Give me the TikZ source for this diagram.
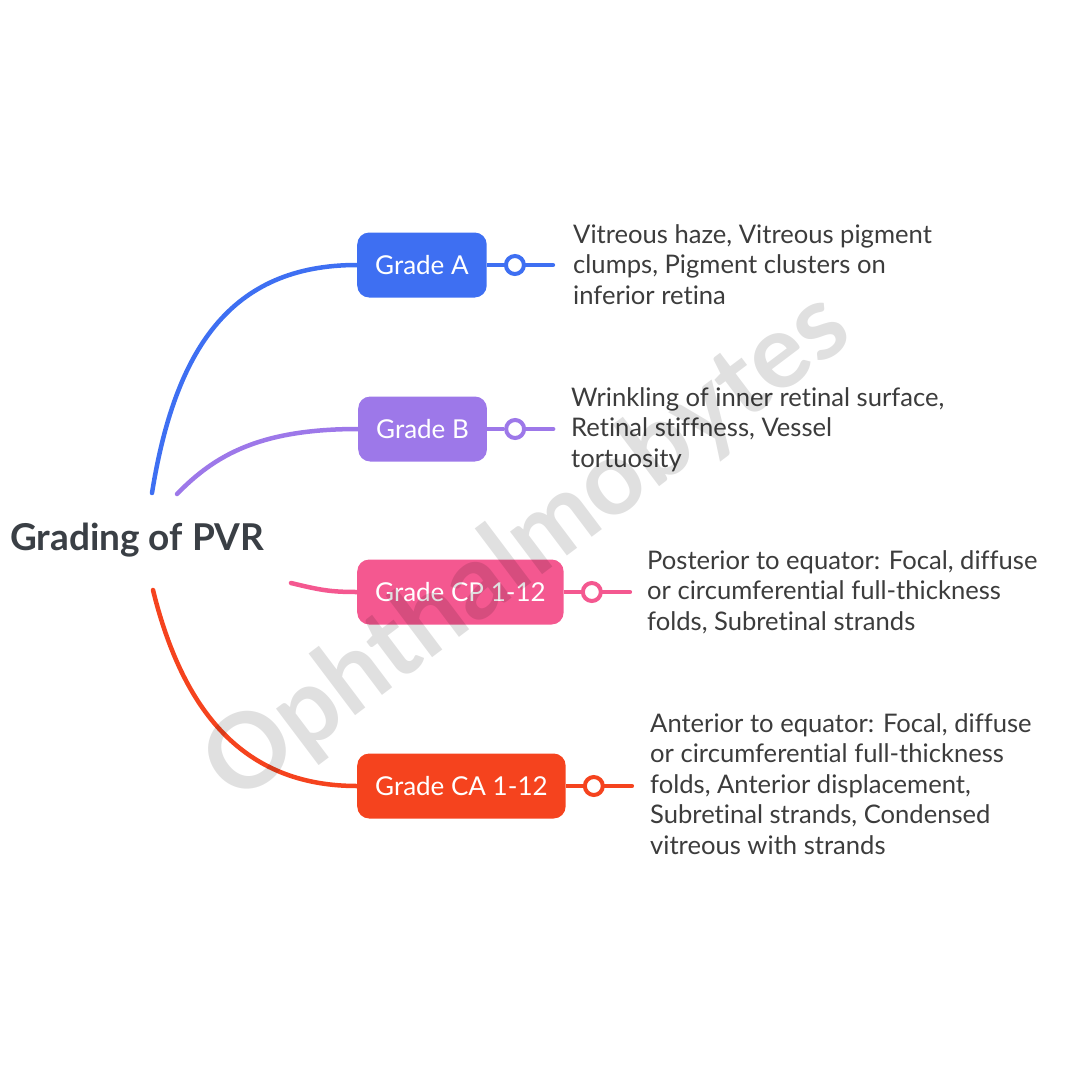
\documentclass[tikz,border=0pt]{standalone}
\usepackage{fontspec}
\setmainfont{Lato}[Ligatures=NoCommon]
\usepackage{xcolor}
\usetikzlibrary{positioning}

\definecolor{gradeA}{HTML}{3E6FF2}
\definecolor{gradeB}{HTML}{9D78E9}
\definecolor{gradeCP}{HTML}{F45890}
\definecolor{gradeCA}{HTML}{F5431E}
\definecolor{inkdark}{HTML}{3A3F45}
\definecolor{inkbody}{HTML}{3C3C3C}

\begin{document}
\begin{tikzpicture}[x=1pt,y=-1pt]
\tikzset{grade/.style={rounded corners=12pt,minimum height=65pt,inner xsep=18pt,text=white,font=\fontsize{26}{30}\selectfont,anchor=west}}
\tikzset{desc/.style={anchor=north west,inner sep=0pt,align=left,text=inkbody,font=\fontsize{25.6}{30.5}\selectfont}}
\tikzset{knob/.style={circle,draw,fill=white,line width=4pt,minimum size=18pt,inner sep=0pt}}
\tikzset{branch/.style={line width=4.5pt,line cap=round}}

\useasboundingbox (0,0) rectangle (1080,1080);

\node[anchor=west,inner sep=0pt,text=inkdark,font=\fontsize{37}{42}\bfseries] (pvr) at (10,540) {Grading of PVR};

% grades
\node[grade,fill=gradeA] (gA) at (357,265) {Grade A};
\node[grade,fill=gradeB] (gB) at (358,429) {Grade B};
\node[grade,fill=gradeCP] (gCP) at (357,592) {Grade CP 1-12};
\node[grade,fill=gradeCA] (gCA) at (357,786) {Grade CA 1-12};

% knobs and tails
\node[knob,draw=gradeA,right=17pt of gA] (kA) {};
\node[knob,draw=gradeB,right=17pt of gB] (kB) {};
\node[knob,draw=gradeCP,right=17pt of gCP] (kCP) {};
\node[knob,draw=gradeCA,right=17pt of gCA] (kCA) {};
\coordinate[right=38pt of kA.center] (tA);
\coordinate[right=38pt of kB.center] (tB);
\coordinate[right=38pt of kCP.center] (tCP);
\coordinate[right=38pt of kCA.center] (tCA);
\foreach \g/\c in {A/gradeA,B/gradeB,CP/gradeCP,CA/gradeCA}{
  \draw[branch,line cap=butt,\c] (g\g.east) -- (k\g.west);
  \draw[branch,\c] (k\g.east) -- (t\g);
}

% descriptions
\node[desc] (dA) at (573,224) {Vitreous haze, Vitreous pigment\\clumps, Pigment clusters on\\inferior retina};
\node[desc] (dB) at (571,387) {Wrinkling of inner retinal surface,\\Retinal stiffness, Vessel\\tortuosity};
\node[desc] (dCP) at (647,550) {Posterior to equator: Focal, diffuse\\or circumferential full-thickness\\folds, Subretinal strands};
\node[desc] (dCA) at (650,713) {Anterior to equator: Focal, diffuse\\or circumferential full-thickness\\folds, Anterior displacement,\\Subretinal strands, Condensed\\vitreous with strands};

% branches from title
\coordinate (sA) at (152,493);
\coordinate (sB) at (177,494);
\coordinate (sCP) at (291,583);
\coordinate (sCA) at (153,590);
\draw[branch,gradeA] (sA) .. controls (175,350) and (230,265) .. (gA.west);
\draw[branch,gradeB] (sB) .. controls (215,455) and (260,429) .. (gB.west);
\draw[branch,gradeCP] (sCP) .. controls (320,590) and (330,592) .. (gCP.west);
\draw[branch,gradeCA] (sCA) .. controls (185,720) and (250,786) .. (gCA.west);

% watermark
\node[rotate=37,text=black,text opacity=0.12,font=\fontsize{104}{106}\selectfont\bfseries] (mark) at (528,548) {Ophthalmobytes};

\end{tikzpicture}
\end{document}
